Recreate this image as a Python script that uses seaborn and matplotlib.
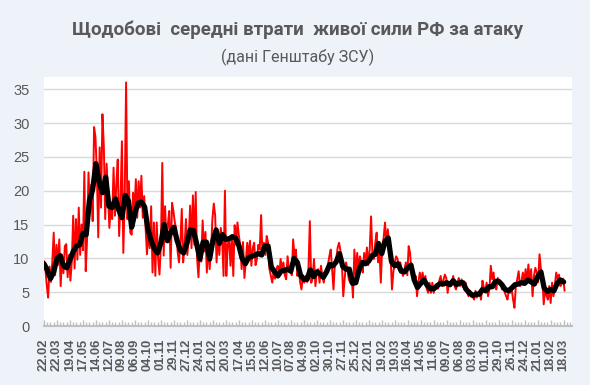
import numpy as np
import pandas as pd
import matplotlib
matplotlib.use("Agg")
import matplotlib.pyplot as plt
import seaborn as sns
from matplotlib.ticker import MultipleLocator, FixedLocator

title = "Щодобові  середні втрати  живої сили РФ за атаку"
subtitle = "(дані Генштабу ЗСУ)"

tick_labels = ["22.02", "22.03", "19.04", "17.05", "14.06", "12.07", "09.08", "06.09",
               "04.10", "01.11", "29.11", "27.12", "24.01", "21.02", "20.03", "17.04",
               "15.05", "12.06", "10.07", "07.08", "04.09", "02.10", "30.10", "27.11",
               "25.12", "22.01", "19.02", "19.03", "16.04", "14.05", "11.06", "09.07",
               "06.08", "03.09", "01.10", "29.10", "26.11", "24.12", "21.01", "18.02",
               "18.03"]
tick_step_days = 28

# daily losses per attack, read every 3rd day
daily_step = 3
daily_losses = [
    9.6, 8.5, 6.0, 4.2, 8.8, 6.5, 9.5, 13.8, 7.5, 12.0,
    9.0, 12.8, 5.9, 10.5, 7.8, 11.8, 12.1, 7.2, 10.5, 6.7,
    9.5, 16.3, 8.5, 15.8, 9.8, 17.5, 10.5, 15.0, 11.2, 22.8,
    8.1, 13.0, 22.7, 17.0, 20.9, 15.5, 29.4, 27.9, 22.7, 13.1,
    26.4, 17.5, 31.3, 26.6, 15.8, 24.0, 19.5, 14.5, 17.7, 15.8,
    23.4, 16.3, 21.0, 24.6, 13.3, 18.5, 27.3, 10.8, 19.0, 36.0,
    15.8, 21.4, 13.8, 13.5, 19.7, 17.0, 21.7, 16.0, 21.4, 17.5,
    22.2, 16.0, 19.2, 14.5, 10.6, 14.0, 11.5, 17.7, 7.9, 15.3,
    7.4, 15.3, 10.0, 7.6, 12.1, 24.1, 10.4, 17.7, 12.6, 15.0,
    17.0, 8.6, 18.2, 17.0, 15.3, 14.4, 11.0, 9.4, 12.3, 17.3,
    9.4, 11.9, 15.8, 10.5, 13.0, 17.8, 11.5, 19.3, 12.0, 19.8,
    10.0, 7.2, 11.9, 9.5, 15.6, 11.0, 13.9, 7.9, 12.4, 8.4,
    11.0, 15.8, 18.1, 16.3, 9.4, 13.4, 10.5, 14.5, 12.9, 7.4,
    20.0, 7.4, 12.0, 12.9, 8.9, 13.4, 7.4, 14.9, 12.0, 15.3,
    13.4, 11.9, 8.4, 12.4, 7.1, 9.5, 12.3, 10.3, 12.6, 8.9,
    11.5, 12.3, 9.0, 9.9, 12.0, 11.3, 16.4, 10.3, 12.3, 10.5,
    13.3, 12.3, 8.4, 7.4, 6.4, 8.1, 7.0, 8.5, 8.9, 7.4,
    9.9, 8.4, 9.4, 7.5, 6.9, 10.3, 8.4, 8.9, 7.5, 12.8,
    10.3, 11.3, 7.4, 8.4, 6.5, 5.4, 7.5, 6.4, 7.4, 6.5,
    8.4, 15.5, 6.4, 7.1, 9.9, 5.9, 8.0, 8.4, 6.4, 8.9,
    7.4, 6.4, 7.8, 8.4, 9.0, 10.3, 11.3, 8.4, 5.4, 9.4,
    10.0, 11.6, 12.3, 11.1, 9.4, 4.4, 6.9, 9.4, 8.4, 6.9,
    6.4, 7.5, 4.2, 11.3, 7.4, 10.8, 8.4, 10.3, 9.0, 7.9,
    10.8, 9.4, 11.6, 9.0, 11.3, 16.2, 10.3, 9.9, 12.3, 13.8,
    9.4, 11.3, 6.4, 11.8, 13.0, 15.3, 12.0, 14.3, 12.3, 10.3,
    5.4, 8.0, 9.4, 10.3, 9.9, 8.4, 9.4, 8.0, 7.4, 8.4,
    9.4, 7.5, 11.8, 10.8, 8.0, 8.4, 6.4, 7.4, 4.4, 6.5,
    7.9, 6.7, 7.9, 6.4, 7.4, 5.5, 4.9, 6.4, 4.9, 6.4,
    4.9, 6.0, 6.2, 5.5, 6.7, 7.4, 5.9, 6.8, 7.6, 7.1,
    4.9, 6.4, 5.9, 6.5, 7.4, 5.9, 5.4, 6.4, 7.1, 5.9,
    6.9, 6.0, 5.4, 6.4, 4.9, 4.4, 5.2, 4.9, 4.4, 3.9,
    5.2, 4.2, 5.0, 4.9, 3.9, 6.7, 5.7, 5.0, 6.4, 4.4,
    5.4, 8.9, 6.9, 7.9, 5.8, 5.4, 7.1, 6.4, 6.4, 5.4,
    5.9, 5.0, 4.4, 3.9, 5.4, 4.9, 5.5, 3.9, 2.7, 5.9,
    6.9, 8.1, 5.9, 6.5, 7.9, 6.4, 8.4, 6.4, 9.1, 6.5,
    8.4, 4.4, 7.4, 8.6, 7.9, 6.5, 10.6, 8.4, 7.4, 3.2,
    5.4, 4.5, 3.9, 5.9, 3.4, 6.4, 4.4, 6.0, 7.9, 6.9,
    7.6, 5.9, 6.4, 7.0, 5.2,
]

# moving average, read once a week
avg_step = 7
avg_losses = [
    9.2, 8.3, 7.0, 8.0, 10.0, 10.4, 8.9, 8.6,
    9.8, 11.0, 11.8, 12.0, 13.7, 13.5, 18.5, 20.2,
    24.0, 21.3, 19.7, 22.0, 17.7, 17.5, 18.8, 17.2,
    16.0, 19.3, 18.5, 14.6, 16.7, 18.2, 18.3, 17.6,
    14.3, 12.6, 11.4, 10.8, 12.3, 15.0, 12.6, 13.8,
    14.6, 12.6, 11.2, 10.8, 12.2, 14.2, 14.1, 12.2,
    9.9, 12.4, 12.4, 9.9, 12.6, 14.2, 12.2, 13.5,
    12.8, 12.9, 13.2, 13.0, 11.9, 10.0, 9.2, 10.1,
    10.3, 10.5, 10.7, 10.5, 11.8, 11.8, 8.7, 8.0,
    7.4, 8.1, 8.2, 8.4, 8.1, 10.0, 9.4, 7.5,
    6.9, 6.9, 8.3, 7.3, 8.0, 7.7, 7.2, 8.0,
    9.1, 8.9, 9.5, 10.7, 8.8, 8.4, 8.4, 6.3,
    6.4, 8.3, 9.4, 9.2, 9.6, 10.4, 10.6, 12.2,
    10.7, 12.5, 13.0, 9.5, 8.9, 9.2, 8.1, 8.0,
    8.6, 9.0, 6.8, 5.7, 6.3, 6.8, 6.0, 5.5,
    5.5, 5.9, 6.3, 6.2, 6.4, 6.1, 6.7, 6.1,
    6.4, 6.4, 5.4, 4.9, 4.5, 4.7, 4.7, 5.4,
    5.2, 5.8, 5.8, 6.6, 6.6, 6.1, 5.4, 5.2,
    5.6, 6.1, 6.2, 6.4, 6.3, 6.8, 6.5, 6.2,
    7.3, 8.0, 5.6, 5.1, 5.4, 5.2, 6.3, 6.8,
    6.5,
]

y_ticks = [0, 5, 10, 15, 20, 25, 30, 35]

daily_df = pd.DataFrame({"day": np.arange(len(daily_losses)) * daily_step,
                         "value": daily_losses})
avg_df = pd.DataFrame({"day": np.arange(len(avg_losses)) * avg_step,
                       "value": avg_losses})

BG = "#EEF2F9"
TXT = "#595959"

sns.set_theme(style="white")
plt.rcParams["font.family"] = ["Roboto", "DejaVu Sans"]

fig = plt.figure(figsize=(5.9, 3.85), dpi=100, facecolor=BG)
ax = fig.add_axes([43.5 / 590, 1 - 326 / 385, (572 - 43.5) / 590, (326 - 77) / 385])
ax.set_facecolor("white")

sns.lineplot(data=daily_df, x="day", y="value", color="#FF0000", linewidth=1.4,
             ax=ax, zorder=3)
sns.lineplot(data=avg_df, x="day", y="value", color="black", linewidth=3.8,
             ax=ax, zorder=4, solid_joinstyle="round", solid_capstyle="round")

ax.set_xlim(-1, 1138)
ax.set_ylim(0, 36.8)
ax.set_yticks(y_ticks)
ax.set_yticklabels([str(v) for v in y_ticks], color=TXT, fontsize=10.5,
                   family=["Liberation Sans"])
ax.yaxis.grid(True, color="#D9D9D9", linewidth=1.0)
ax.set_axisbelow(True)

tick_pos = [i * tick_step_days for i in range(len(tick_labels))]
ax.xaxis.set_major_locator(FixedLocator(tick_pos))
ax.set_xticklabels(tick_labels, rotation=90, fontsize=9.3, fontweight="bold",
                   color=TXT, family=["Liberation Sans"], va="top", ha="center")
ax.xaxis.set_minor_locator(MultipleLocator(7))
ax.tick_params(axis="x", which="major", direction="in", length=4, width=1,
               color="#BFBFBF", pad=9, bottom=True)
ax.tick_params(axis="x", which="minor", direction="in", length=3, width=1,
               color="#BFBFBF", bottom=True)
ax.tick_params(axis="y", length=0, pad=10)

for s in ["top", "right", "left"]:
    ax.spines[s].set_visible(False)
ax.spines["bottom"].set_color("#BFBFBF")
ax.spines["bottom"].set_linewidth(1.5)
ax.set_xlabel("")
ax.set_ylabel("")

fig.text(298 / 590, 1 - 30 / 385, title, ha="center", va="center",
         fontsize=13.5, fontweight="bold", color=TXT)
fig.text(298 / 590, 1 - 57 / 385, subtitle, ha="center", va="center",
         fontsize=11.5, color=TXT)

fig.savefig("out.png", dpi=100, facecolor=BG)
